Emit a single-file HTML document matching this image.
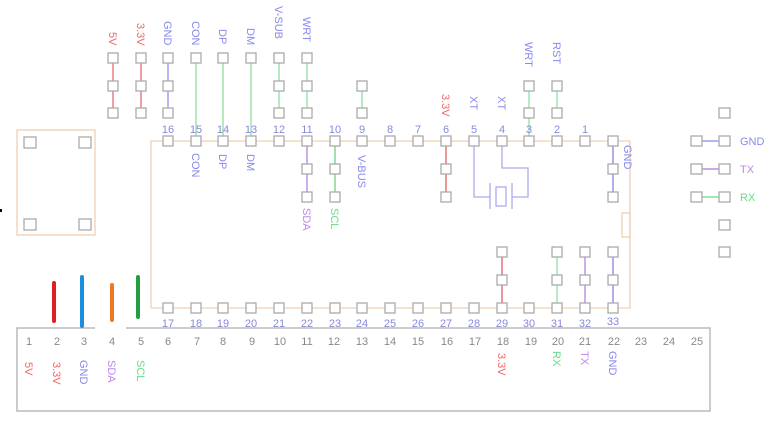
<!DOCTYPE html>
<html><head><meta charset="utf-8"><style>
html,body{margin:0;padding:0;background:#fff;width:773px;height:430px;overflow:hidden}
svg{display:block;font-family:"Liberation Sans",sans-serif}
.p{fill:#fff;stroke:#aaa;stroke-width:1.3}
.n{fill:#8888dd;font-size:11px;text-anchor:middle}
.g{fill:#888;font-size:11px;text-anchor:middle}
.b{fill:#8888ee}.r{fill:#ee6666}.gr{fill:#66dd88}.pu{fill:#bb88ee}
.l{font-size:11px}
</style></head><body>
<svg width="773" height="430" viewBox="0 0 773 430">
<!-- orange outline -->
<g stroke="#f0d0b0" fill="none" stroke-width="1.3">
<polyline points="151,308 151,141 630,141 630,308 151,308"/>
<rect x="17" y="130" width="78" height="105"/>
<rect x="622" y="213" width="8" height="24"/>
</g>
<!-- bottom box -->
<polyline points="95,328 17,328 17,411 710,411 710,328 126,328" fill="none" stroke="#bbb" stroke-width="1.5"/>
<!-- colored bars -->
<g stroke-width="4" stroke-linecap="round">
<line x1="54" y1="283" x2="54" y2="321" stroke="#e02020"/>
<line x1="82" y1="277" x2="82" y2="326" stroke="#1a8fe0"/>
<line x1="112" y1="285" x2="112" y2="320" stroke="#f07820"/>
<line x1="138" y1="277" x2="138" y2="317" stroke="#20a040"/>
</g>
<!-- connection lines -->
<g stroke-width="1.2">
<line x1="113" y1="58" x2="113" y2="113" stroke="#e06060"/>
<line x1="141" y1="58" x2="141" y2="113" stroke="#e06060"/>
<line x1="168" y1="58" x2="168" y2="113" stroke="#8888ee"/>
<line x1="196" y1="58" x2="196" y2="141" stroke="#88dd99"/>
<line x1="223" y1="58" x2="223" y2="141" stroke="#88dd99"/>
<line x1="251" y1="58" x2="251" y2="141" stroke="#88dd99"/>
<line x1="279" y1="58" x2="279" y2="113" stroke="#88dd99"/>
<line x1="307" y1="58" x2="307" y2="113" stroke="#88dd99"/>
<line x1="362" y1="86" x2="362" y2="113" stroke="#88dd99"/>
<line x1="529" y1="86" x2="529" y2="141" stroke="#88dd99"/>
<line x1="557" y1="86" x2="557" y2="113" stroke="#88dd99"/>
<line x1="307" y1="141" x2="307" y2="197" stroke="#aa77dd"/>
<line x1="335" y1="141" x2="335" y2="197" stroke="#66cc77"/>
<line x1="446" y1="141" x2="446" y2="197" stroke="#e05050"/>
<line x1="613" y1="141" x2="613" y2="197" stroke="#7777dd"/>
<line x1="502" y1="252" x2="502" y2="308" stroke="#e05050"/>
<line x1="557" y1="252" x2="557" y2="308" stroke="#88dd99"/>
<line x1="585" y1="252" x2="585" y2="308" stroke="#aa77dd"/>
<line x1="613" y1="252" x2="613" y2="308" stroke="#7777dd"/>
<line x1="696" y1="141" x2="724" y2="141" stroke="#8888ee"/>
<line x1="696" y1="169" x2="724" y2="169" stroke="#aa77dd"/>
<line x1="696" y1="197" x2="724" y2="197" stroke="#66dd88"/>
</g>
<!-- crystal -->
<g stroke="#aaaaee" stroke-width="1.3" fill="none">
<polyline points="474,141 474,197 490,197"/>
<polyline points="502,141 502,168 528,168 528,197 512,197"/>
<line x1="490" y1="183" x2="490" y2="209"/>
<line x1="512" y1="183" x2="512" y2="209"/>
<rect x="496" y="187" width="10" height="19"/>
</g>
<!-- pads -->
<g class="pp">
<rect class="p" x="108" y="53" width="10" height="10"/><rect class="p" x="108" y="81" width="10" height="10"/><rect class="p" x="108" y="108" width="10" height="10"/>
<rect class="p" x="136" y="53" width="10" height="10"/><rect class="p" x="136" y="81" width="10" height="10"/><rect class="p" x="136" y="108" width="10" height="10"/>
<rect class="p" x="163" y="53" width="10" height="10"/><rect class="p" x="163" y="81" width="10" height="10"/><rect class="p" x="163" y="108" width="10" height="10"/>
<rect class="p" x="191" y="53" width="10" height="10"/>
<rect class="p" x="218" y="53" width="10" height="10"/>
<rect class="p" x="246" y="53" width="10" height="10"/>
<rect class="p" x="274" y="53" width="10" height="10"/><rect class="p" x="274" y="81" width="10" height="10"/><rect class="p" x="274" y="108" width="10" height="10"/>
<rect class="p" x="302" y="53" width="10" height="10"/><rect class="p" x="302" y="81" width="10" height="10"/><rect class="p" x="302" y="108" width="10" height="10"/>
<rect class="p" x="357" y="81" width="10" height="10"/><rect class="p" x="357" y="108" width="10" height="10"/>
<rect class="p" x="524" y="81" width="10" height="10"/><rect class="p" x="524" y="108" width="10" height="10"/>
<rect class="p" x="552" y="81" width="10" height="10"/><rect class="p" x="552" y="108" width="10" height="10"/>
<!-- top row -->
<rect class="p" x="163" y="136" width="10" height="10"/><rect class="p" x="191" y="136" width="10" height="10"/><rect class="p" x="218" y="136" width="10" height="10"/><rect class="p" x="246" y="136" width="10" height="10"/><rect class="p" x="274" y="136" width="10" height="10"/><rect class="p" x="302" y="136" width="10" height="10"/><rect class="p" x="330" y="136" width="10" height="10"/><rect class="p" x="357" y="136" width="10" height="10"/><rect class="p" x="385" y="136" width="10" height="10"/><rect class="p" x="413" y="136" width="10" height="10"/><rect class="p" x="441" y="136" width="10" height="10"/><rect class="p" x="469" y="136" width="10" height="10"/><rect class="p" x="497" y="136" width="10" height="10"/><rect class="p" x="524" y="136" width="10" height="10"/><rect class="p" x="552" y="136" width="10" height="10"/><rect class="p" x="580" y="136" width="10" height="10"/><rect class="p" x="608" y="136" width="10" height="10"/>
<rect class="p" x="302" y="164" width="10" height="10"/><rect class="p" x="302" y="192" width="10" height="10"/>
<rect class="p" x="330" y="164" width="10" height="10"/><rect class="p" x="330" y="192" width="10" height="10"/>
<rect class="p" x="441" y="164" width="10" height="10"/><rect class="p" x="441" y="192" width="10" height="10"/>
<rect class="p" x="608" y="164" width="10" height="10"/><rect class="p" x="608" y="192" width="10" height="10"/>
<!-- bottom row -->
<rect class="p" x="163" y="303" width="10" height="10"/><rect class="p" x="191" y="303" width="10" height="10"/><rect class="p" x="218" y="303" width="10" height="10"/><rect class="p" x="246" y="303" width="10" height="10"/><rect class="p" x="274" y="303" width="10" height="10"/><rect class="p" x="302" y="303" width="10" height="10"/><rect class="p" x="330" y="303" width="10" height="10"/><rect class="p" x="357" y="303" width="10" height="10"/><rect class="p" x="385" y="303" width="10" height="10"/><rect class="p" x="413" y="303" width="10" height="10"/><rect class="p" x="441" y="303" width="10" height="10"/><rect class="p" x="469" y="303" width="10" height="10"/><rect class="p" x="497" y="303" width="10" height="10"/><rect class="p" x="524" y="303" width="10" height="10"/><rect class="p" x="552" y="303" width="10" height="10"/><rect class="p" x="580" y="303" width="10" height="10"/><rect class="p" x="608" y="303" width="10" height="10"/>
<rect class="p" x="497" y="247" width="10" height="10"/><rect class="p" x="497" y="275" width="10" height="10"/>
<rect class="p" x="552" y="247" width="10" height="10"/><rect class="p" x="552" y="275" width="10" height="10"/>
<rect class="p" x="580" y="247" width="10" height="10"/><rect class="p" x="580" y="275" width="10" height="10"/>
<rect class="p" x="608" y="247" width="10" height="10"/><rect class="p" x="608" y="275" width="10" height="10"/>
<!-- left box -->
<rect class="p" x="24" y="137" width="12" height="11"/><rect class="p" x="79" y="137" width="12" height="11"/>
<rect class="p" x="24" y="219" width="12" height="11"/><rect class="p" x="79" y="219" width="12" height="11"/>
<!-- right connector -->
<rect class="p" x="719" y="108" width="11" height="10"/><rect class="p" x="719" y="136" width="11" height="10"/><rect class="p" x="719" y="164" width="11" height="10"/><rect class="p" x="719" y="192" width="11" height="10"/><rect class="p" x="719" y="220" width="11" height="10"/><rect class="p" x="719" y="247" width="11" height="10"/>
<rect class="p" x="691" y="136" width="11" height="10"/><rect class="p" x="691" y="164" width="11" height="10"/><rect class="p" x="691" y="192" width="11" height="10"/>
</g>
<!-- pin numbers top -->
<g class="n">
<text x="168" y="133">16</text><text x="196" y="133">15</text><text x="223" y="133">14</text><text x="251" y="133">13</text><text x="279" y="133">12</text><text x="307" y="133">11</text><text x="335" y="133">10</text><text x="362" y="133">9</text><text x="390" y="133">8</text><text x="418" y="133">7</text><text x="446" y="133">6</text><text x="474" y="133">5</text><text x="502" y="133">4</text><text x="529" y="133">3</text><text x="557" y="133">2</text><text x="585" y="133">1</text>
<text x="168" y="327">17</text><text x="196" y="327">18</text><text x="223" y="327">19</text><text x="251" y="327">20</text><text x="279" y="327">21</text><text x="307" y="327">22</text><text x="335" y="327">23</text><text x="362" y="327">24</text><text x="390" y="327">25</text><text x="418" y="327">26</text><text x="446" y="327">27</text><text x="474" y="327">28</text><text x="502" y="327">29</text><text x="529" y="327">30</text><text x="557" y="327">31</text><text x="585" y="327">32</text><text x="613" y="325">33</text>
</g>
<g class="g">
<text x="29" y="345">1</text><text x="57" y="345">2</text><text x="84" y="345">3</text><text x="112" y="345">4</text><text x="141" y="345">5</text><text x="168" y="345">6</text><text x="197" y="345">7</text><text x="223" y="345">8</text><text x="252" y="345">9</text><text x="280" y="345">10</text><text x="307" y="345">11</text><text x="334" y="345">12</text><text x="362" y="345">13</text><text x="390" y="345">14</text><text x="418" y="345">15</text><text x="447" y="345">16</text><text x="475" y="345">17</text><text x="503" y="345">18</text><text x="531" y="345">19</text><text x="558" y="345">20</text><text x="585" y="345">21</text><text x="614" y="345">22</text><text x="641" y="345">23</text><text x="669" y="345">24</text><text x="697" y="345">25</text>
</g>
<!-- rotated labels: anchor start, reading downward -->
<g class="l">
<text class="r" transform="translate(109,32) rotate(90)">5V</text>
<text class="r" transform="translate(137,23) rotate(90)">3.3V</text>
<text class="b" transform="translate(164,21) rotate(90)">GND</text>
<text class="b" transform="translate(192,21) rotate(90)">CON</text>
<text class="b" transform="translate(219,29) rotate(90)">DP</text>
<text class="b" transform="translate(247,28) rotate(90)">DM</text>
<text class="b" transform="translate(275,6) rotate(90)">V-SUB</text>
<text class="b" transform="translate(303,17) rotate(90)">WRT</text>
<text class="b" transform="translate(525,42) rotate(90)">WRT</text>
<text class="b" transform="translate(553,42) rotate(90)">RST</text>
<text class="r" transform="translate(442,94) rotate(90)">3.3V</text>
<text class="b" transform="translate(470,96) rotate(90)">XT</text>
<text class="b" transform="translate(498,96) rotate(90)">XT</text>
<text class="b" transform="translate(192,153) rotate(90)">CON</text>
<text class="b" transform="translate(219,154) rotate(90)">DP</text>
<text class="b" transform="translate(247,154) rotate(90)">DM</text>
<text class="b" transform="translate(358,155) rotate(90)">V-BUS</text>
<text class="pu" transform="translate(303,208) rotate(90)">SDA</text>
<text class="gr" transform="translate(331,208) rotate(90)">SCL</text>
<text class="b" transform="translate(624,145) rotate(90)">GND</text>
<text class="r" transform="translate(25,362) rotate(90)">5V</text>
<text class="r" transform="translate(53,362) rotate(90)">3.3V</text>
<text class="b" transform="translate(80,360) rotate(90)">GND</text>
<text class="pu" transform="translate(108,360) rotate(90)">SDA</text>
<text class="gr" transform="translate(137,360) rotate(90)">SCL</text>
<text class="r" transform="translate(498,353) rotate(90)">3.3V</text>
<text class="gr" transform="translate(553,351) rotate(90)">RX</text>
<text class="pu" transform="translate(581,351) rotate(90)">TX</text>
<text class="b" transform="translate(609,351) rotate(90)">GND</text>
</g>
<text x="740" y="145" class="b" style="font-size:11px">GND</text>
<text x="740" y="173" class="pu" style="font-size:11px">TX</text>
<text x="740" y="201" class="gr" style="font-size:11px">RX</text>
<rect x="0" y="209" width="2" height="3" fill="#000"/>
</svg>
</body></html>
